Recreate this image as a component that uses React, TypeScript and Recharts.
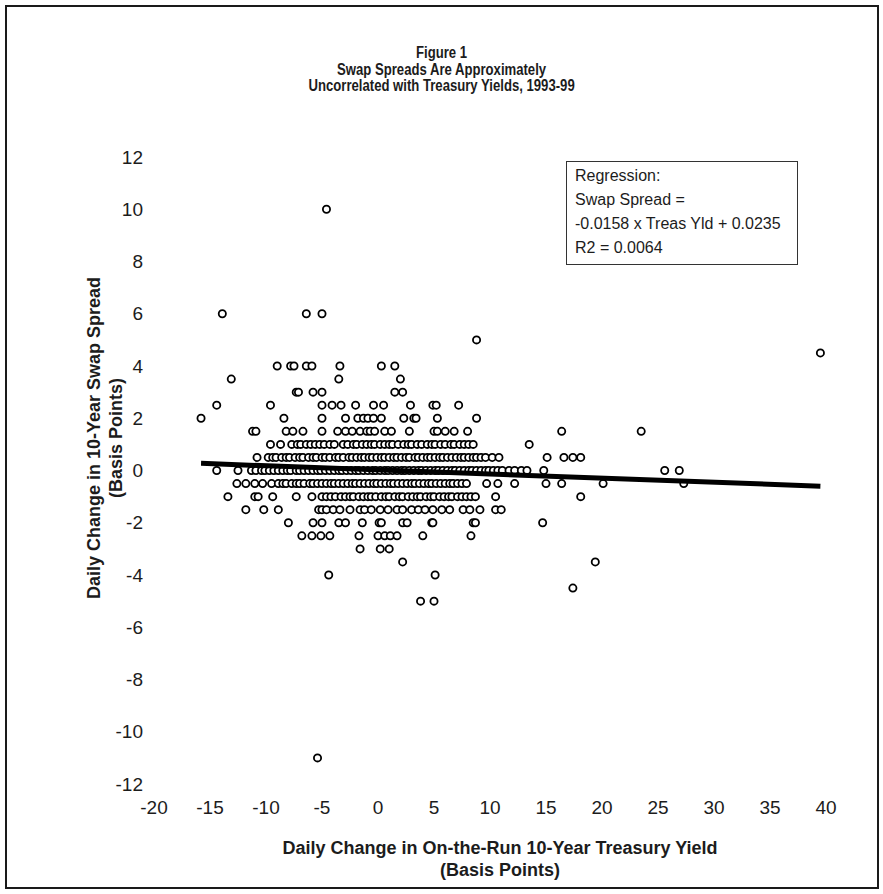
import { ScatterChart, Scatter, XAxis, YAxis } from 'recharts';

// daily change in 10y swap spread (bp) for each row of points
const spreadLevels = [10, 6, 5, 4.5, 4, 3.5, 3, 2.5, 2, 1.5, 1, 0.5, 0, -0.5, -1, -1.5, -2, -2.5, -3, -3.5, -4, -4.5, -5, -11];

// daily change in on-the-run 10y treasury yield (bp), one list per spread level
const yieldAt10 = [-4.6];
const yieldAt6 = [-13.9, -6.4, -5.0];
const yieldAt5 = [8.8];
const yieldAt4p5 = [39.5];
const yieldAt4 = [-9.0, -7.8, -7.5, -6.4, -5.9, -3.4, 0.3, 1.5];
const yieldAt3p5 = [-13.1, -3.5, 2.0];
const yieldAt3 = [-7.3, -7.1, -5.8, -5.0, 1.5, 2.2];
const yieldAt2p5 = [-14.4, -9.6, -5.0, -4.1, -3.3, -2.0, -0.4, 0.5, 2.9, 4.9, 5.2, 7.2];
const yieldAt2 = [-15.8, -8.4, -5.0, -2.9, -1.8, -1.3, -0.9, -0.4, 0.3, 2.3, 3.2, 3.4, 5.3, 8.8];
const yieldAt1p5 = [-11.2, -10.9, -8.2, -7.6, -6.7, -5.0, -3.6, -2.9, -2.3, -1.6, -1.0, -0.7, -0.3, 0.6, 1.2, 2.8, 5.0, 5.3, 6.0, 6.8, 8.0, 16.4, 23.5];
const yieldAt1 = [-9.6, -8.7, -7.7, -7.2, -6.9, -6.4, -6.0, -5.6, -5.2, -4.8, -4.3, -3.9, -3.1, -2.7, -2.2, -1.9, -1.4, -1.0, -0.6, -0.3, 0.2, 0.6, 1.0, 1.3, 1.8, 2.3, 2.7, 3.0, 3.5, 3.9, 4.4, 4.8, 5.1, 5.6, 6.0, 6.5, 6.8, 7.3, 7.7, 8.1, 8.5, 13.5];
const yieldAt0p5 = [-10.8, -9.8, -9.4, -9.1, -8.6, -8.2, -7.9, -7.4, -7.0, -6.7, -6.2, -5.8, -5.5, -5.0, -4.7, -4.3, -3.8, -3.5, -3.1, -2.6, -2.3, -1.9, -1.5, -1.2, -0.8, -0.5, -0.1, 0.3, 0.6, 1.0, 1.4, 1.7, 2.1, 2.5, 2.8, 3.3, 3.6, 4.0, 4.4, 4.7, 5.1, 5.5, 5.8, 6.2, 6.6, 7.0, 7.4, 7.7, 8.1, 8.5, 8.8, 9.2, 9.6, 10.2, 10.8, 15.1, 16.6, 17.4, 18.1];
const yieldAt0 = [-14.4, -12.5, -11.3, -10.9, -10.4, -10.1, -9.7, -9.3, -8.9, -8.5, -8.1, -7.8, -7.3, -7.0, -6.6, -6.2, -5.8, -5.4, -5.1, -4.7, -4.3, -3.9, -3.5, -3.2, -2.8, -2.4, -2.0, -1.7, -1.3, -0.9, -0.5, -0.2, 0.2, 0.6, 0.9, 1.3, 1.7, 2.1, 2.4, 2.8, 3.2, 3.6, 3.9, 4.3, 4.7, 5.1, 5.4, 5.8, 6.2, 6.6, 6.9, 7.3, 7.7, 8.1, 8.4, 8.8, 9.2, 9.6, 9.9, 10.3, 10.7, 11.1, 11.7, 12.2, 12.8, 13.3, 14.8, 25.6, 26.9];
const yieldAtM0p5 = [-12.6, -11.8, -11.0, -10.3, -9.5, -8.9, -8.5, -8.2, -7.7, -7.3, -7.0, -6.6, -6.1, -5.8, -5.4, -5.0, -4.6, -4.2, -3.9, -3.5, -3.1, -2.7, -2.3, -2.0, -1.6, -1.2, -0.8, -0.4, -0.1, 0.3, 0.7, 1.1, 1.4, 1.8, 2.2, 2.6, 3.0, 3.3, 3.7, 4.1, 4.5, 4.8, 5.2, 5.6, 6.0, 6.4, 6.7, 7.1, 7.5, 7.9, 9.7, 10.7, 12.2, 15.0, 16.4, 20.1, 27.3];
const yieldAtM1 = [-13.4, -11.0, -10.7, -9.4, -7.3, -5.9, -5.0, -4.6, -4.2, -3.8, -3.3, -2.9, -2.5, -2.2, -1.7, -1.3, -0.9, -0.6, -0.2, 0.3, 0.7, 1.0, 1.5, 1.9, 2.2, 2.7, 3.1, 3.5, 3.8, 4.3, 4.7, 5.0, 5.5, 5.9, 6.3, 6.6, 7.1, 7.5, 7.9, 8.3, 8.7, 10.5, 18.1];
const yieldAtM1p5 = [-11.8, -10.2, -8.9, -5.3, -5.0, -4.6, -4.0, -3.4, -2.5, -1.6, -1.2, -0.6, 0.2, 0.9, 1.7, 2.2, 3.0, 3.6, 4.2, 4.9, 5.7, 6.4, 7.6, 8.2, 9.1, 10.5, 11.0];
const yieldAtM2 = [-8.0, -5.8, -5.0, -3.5, -2.9, -1.4, 0.1, 0.3, 2.2, 2.6, 4.8, 4.9, 8.5, 8.7, 14.7];
const yieldAtM2p5 = [-6.8, -5.9, -5.1, -4.3, -1.7, 0.0, 0.6, 1.1, 1.7, 4.0, 8.3];
const yieldAtM3 = [-1.6, 0.2, 1.0];
const yieldAtM3p5 = [2.2, 19.4];
const yieldAtM4 = [-4.4, 5.1];
const yieldAtM4p5 = [17.4];
const yieldAtM5 = [3.8, 5.0];
const yieldAtM11 = [-5.4];

const yieldRows = [
  yieldAt10, yieldAt6, yieldAt5, yieldAt4p5, yieldAt4, yieldAt3p5, yieldAt3, yieldAt2p5,
  yieldAt2, yieldAt1p5, yieldAt1, yieldAt0p5, yieldAt0, yieldAtM0p5, yieldAtM1, yieldAtM1p5,
  yieldAtM2, yieldAtM2p5, yieldAtM3, yieldAtM3p5, yieldAtM4, yieldAtM4p5, yieldAtM5, yieldAtM11,
];

// regression from the note in the chart
const slope = -0.0158;
const intercept = 0.0235;
const fitRange = [-15.8, 39.5];

const xTicks = [-20, -15, -10, -5, 0, 5, 10, 15, 20, 25, 30, 35, 40];
const yTicks = [-12, -10, -8, -6, -4, -2, 0, 2, 4, 6, 8, 10, 12];

const points = spreadLevels.flatMap((s, i) => yieldRows[i].map((t) => ({ x: t, y: s })));
const fitLine = fitRange.map((t) => ({ x: t, y: slope * t + intercept }));

const sans = '"Liberation Sans", Arial, sans-serif';
const ink = '#1c1c1c';

const OpenCircle = (props: any) => {
  const { cx, cy } = props;
  if (cx == null || cy == null) return <g />;
  return <circle cx={cx} cy={cy} r={3.6} fill='#fff' stroke='#000' strokeWidth={1.8} />;
};

const App = () => {
  return (
    <div style={{ position: 'absolute', left: 0, top: 0, width: 883, height: 894, background: '#fff' }}>
      <div
        style={{
          position: 'absolute',
          left: 5,
          top: 5,
          width: 874,
          height: 884,
          boxSizing: 'border-box',
          border: '2px solid #1a1a1a',
        }}
      />
      {/* title is set in a condensed bold face in the original */}
      <div
        style={{
          position: 'absolute',
          left: 0,
          top: 45,
          width: 883,
          textAlign: 'center',
          fontFamily: sans,
          fontWeight: 'bold',
          fontSize: 16,
          lineHeight: '16.5px',
          color: ink,
          transform: 'scaleX(0.82)',
          transformOrigin: '442px 0',
        }}
      >
        <div>Figure 1</div>
        <div>Swap Spreads Are Approximately</div>
        <div>Uncorrelated with Treasury Yields, 1993-99</div>
      </div>

      <div style={{ position: 'absolute', left: 0, top: 0 }}>
        <ScatterChart width={883} height={894} margin={{ top: 157, right: 57, bottom: 80, left: 94 }}>
          <XAxis
            type='number'
            dataKey='x'
            domain={[-20, 40]}
            ticks={xTicks}
            interval={0}
            axisLine={false}
            tickLine={false}
            tickMargin={11}
            height={30}
            tick={{ fontSize: 19, fontFamily: sans, fill: ink }}
          />
          <YAxis
            type='number'
            dataKey='y'
            domain={[-12, 12]}
            ticks={yTicks}
            interval={0}
            axisLine={false}
            tickLine={false}
            tickMargin={5}
            width={60}
            tick={{ fontSize: 19, fontFamily: sans, fill: ink }}
          />
          <Scatter data={points} shape={OpenCircle} isAnimationActive={false} />
          <Scatter
            data={fitLine}
            line={{ stroke: '#000', strokeWidth: 5 }}
            shape={() => <g />}
            isAnimationActive={false}
          />
        </ScatterChart>
      </div>

      <div
        style={{
          position: 'absolute',
          left: 566,
          top: 161,
          width: 232,
          height: 104,
          boxSizing: 'border-box',
          border: '1px solid #333',
          padding: '2px 0 0 8px',
          fontFamily: sans,
          fontSize: 16,
          lineHeight: '24px',
          color: ink,
        }}
      >
        <div>Regression:</div>
        <div>Swap Spread =</div>
        <div>-0.0158 x Treas Yld + 0.0235</div>
        <div>R2 = 0.0064</div>
      </div>

      <div
        style={{
          position: 'absolute',
          left: 105 - 250,
          top: 438 - 22,
          width: 500,
          height: 44,
          transform: 'rotate(-90deg)',
          textAlign: 'center',
          fontFamily: sans,
          fontWeight: 'bold',
          fontSize: 18,
          lineHeight: '22px',
          color: ink,
        }}
      >
        <div>Daily Change in 10-Year Swap Spread</div>
        <div>(Basis Points)</div>
      </div>

      <div
        style={{
          position: 'absolute',
          left: 250,
          top: 837,
          width: 500,
          textAlign: 'center',
          fontFamily: sans,
          fontWeight: 'bold',
          fontSize: 18,
          lineHeight: '22px',
          color: ink,
        }}
      >
        <div>Daily Change in On-the-Run 10-Year Treasury Yield</div>
        <div>(Basis Points)</div>
      </div>
    </div>
  );
};

export default App;
